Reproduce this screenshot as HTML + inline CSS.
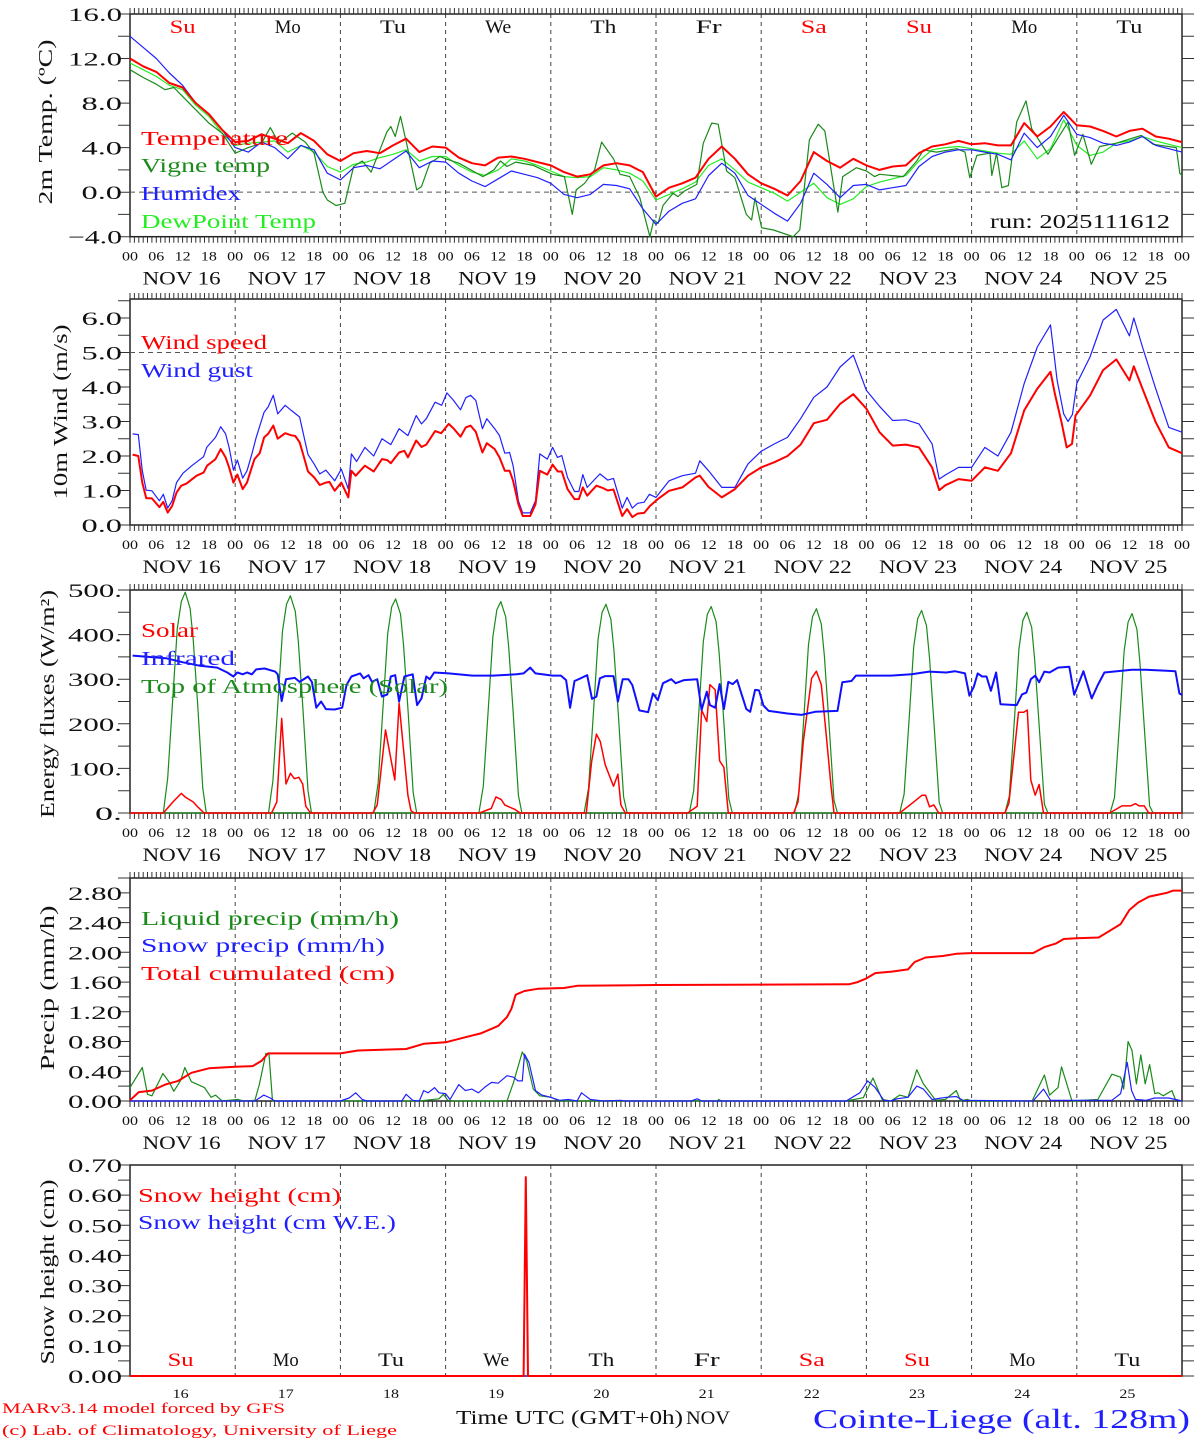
<!DOCTYPE html>
<html><head><meta charset="utf-8"><title>MAR forecast Cointe-Liege</title>
<style>html,body{margin:0;padding:0;background:#fff;}svg{display:block;}</style></head>
<body>
<svg id="chart" xmlns="http://www.w3.org/2000/svg" width="1194" height="1440" viewBox="0 0 1194 1440" font-family="'Liberation Serif', serif"></svg>
<script>
// ---------- DATA ----------
const dayNames = ["Su","Mo","Tu","We","Th","Fr","Sa","Su","Mo","Tu"];
const dayNameRed = [true,false,false,false,false,false,true,true,false,false];
const dayNumbers = ["16","17","18","19","20","21","22","23","24","25"];
const hourLabels = ["00","06","12","18"];
const tempTicks = [16,12,8,4,0,-4];
const tempTickLabels = ["16.0","12.0","8.0","4.0","0.0","\u22124.0"];
const windTicks = [0,1,2,3,4,5,6];
const windTickLabels = ["0.0","1.0","2.0","3.0","4.0","5.0","6.0"];
const energyTicks = [0,100,200,300,400,500];
const energyTickLabels = ["0.","100.","200.","300.","400.","500."];
const precipTicks = [0,0.4,0.8,1.2,1.6,2.0,2.4,2.8];
const precipTickLabels = ["0.00","0.40","0.80","1.20","1.60","2.00","2.40","2.80"];
const snowTicks = [0,0.1,0.2,0.3,0.4,0.5,0.6,0.7];
const snowTickLabels = ["0.00","0.10","0.20","0.30","0.40","0.50","0.60","0.70"];

const temperature = [12.0,11.3,10.8,9.8,9.4,8.0,7.0,5.6, 4.5,4.6,5.2,4.8,4.4,5.3,4.6,3.4, 2.8,3.5,3.7,3.5,4.2,4.8,3.6,4.1, 4.0,3.1,2.6,2.4,3.1,3.2,3.0,2.7, 2.4,1.8,1.4,1.6,2.4,2.6,2.4,1.8, -0.4,0.4,0.8,1.3,3.0,4.1,3.0,1.6, 0.8,0.3,-0.3,1.0,3.6,2.8,2.2,3.0, 2.4,2.0,2.3,2.4,3.5,4.1,4.3,4.6, 4.3,4.4,4.2,4.2,6.2,5.0,5.9,7.2, 6.0,5.9,5.5,5.0,5.5,5.7,5.0,4.8, 4.5];
const humidex = [14.0,13.0,12.0,10.7,9.6,8.0,7.0,5.6, 4.0,3.6,4.5,4.0,3.0,4.2,3.8,1.7, 1.1,2.2,2.4,2.1,2.9,3.7,2.2,2.8, 2.7,1.7,1.0,0.5,1.2,1.9,1.6,1.3, 0.8,-0.2,-0.5,-0.2,0.7,0.6,0.3,-1.5, -2.9,-1.7,-1.0,-0.6,1.5,2.6,1.7,-0.3, -1.1,-1.9,-2.6,-1.0,1.7,0.7,-0.5,0.6, 0.7,0.2,0.4,0.6,2.3,3.2,3.6,3.8, 3.8,3.6,3.4,2.9,5.3,4.0,5.0,6.9, 5.2,4.9,4.4,4.2,4.5,5.0,4.2,3.9, 3.6];
const dewPoint = [11.6,11.0,10.4,9.6,9.2,7.8,6.8,5.3, 4.2,4.4,4.5,4.6,3.6,4.2,3.6,2.3, 1.8,2.5,2.7,3.1,3.4,3.8,2.8,3.2, 3.2,2.4,1.8,1.5,2.0,3.0,2.8,2.4, 1.9,1.4,1.3,1.4,2.2,2.0,1.7,1.0, -0.7,-0.2,0.3,0.9,2.4,3.0,2.0,0.9, 0.4,-0.1,-0.8,0.0,0.8,-0.5,-1.1,-0.6, 0.5,0.9,1.2,1.5,2.8,3.8,4.0,4.1, 3.9,3.7,3.5,3.4,4.6,3.0,3.9,6.5, 4.2,3.3,3.6,4.4,4.6,5.0,4.6,4.3, 4.0];
const vigneHours = [0,3,6,8,10,12,15,18,21,24,27,30,32,34,37,40,42,44,45,47,48,49,51,53,55,56,58.6,59.5,60.5,61.7,63.5,65.4,66.5,68.4,70.7,72,75,80.5,83,84.5,86,88,92,96.4,99.1,100.9,101.8,103.7,106,107.6,110.3,111.8,114,116.3,118.6,119.5,120.5,121.6,123.9,125,126.5,129.3,130.8,132.7,134.2,136.1,138,140.6,141.8,142.6,144.1,146.8,151.3,152.8,155,157,158.5,161.5,162.6,165.7,168,169.9,171,176.4,179.5,181,184,188.6,190.5,191.6,193.2,196.2,196.6,197.7,198.9,200.4,202.3,204.4,205.7,208.3,209.4,214,215.5,217.4,219.3,221.2,225,230.7,233.4,238.7,239.5,240];
const vigneValues = [11.0,10.3,9.7,9.2,9.4,8.6,7.4,6.2,5.3,3.5,4.0,4.4,5.8,4.4,5.3,4.5,3.5,0.0,-0.7,-1.2,-1.1,-1.0,2.3,2.8,1.8,2.8,5.4,5.9,5.0,6.8,3.7,0.2,0.5,2.6,3.2,3.0,2.6,1.4,2.0,2.8,2.3,2.7,2.4,1.6,1.4,-2.0,0.2,0.8,2.0,4.5,3.0,1.6,1.4,-0.5,-4.0,-2.5,-2.8,-1.2,-0.1,-0.4,0.1,0.7,4.4,6.2,6.1,1.9,1.3,-2.0,-2.5,-0.5,-3.2,-3.4,-4.0,-3.4,4.7,6.1,5.5,-1.8,1.4,2.2,1.9,1.4,1.6,1.4,2.8,3.8,3.6,3.9,3.6,1.3,3.3,3.5,1.5,3.5,0.4,0.6,6.3,8.2,5.7,4.1,3.4,6.3,3.3,5.2,2.5,4.1,4.4,5.1,4.3,4.0,1.7,1.5];

const windHours = [0.6,1.9,2.8,3.7,5,6.7,7.6,8.6,9.6,10.6,11.7,12.9,15.2,16.8,17.6,19.5,20.7,21.8,22.6,23.6,24.5,25.7,26.7,27.6,28.4,29.6,30.6,31.5,32.7,33.7,35.4,36.8,37.7,38.7,39.7,40.6,42,43.3,44.7,45.5,46.7,48.2,49.8,50.5,51.5,53.6,55.6,57.5,58.7,59.5,61.4,62.6,63.4,65.3,66.5,67.6,69.6,71,72.7,73.8,75.4,76.6,77.7,78.9,80.4,81.4,83.2,84.3,85.5,86.6,87.4,88.6,89.6,91.3,92.5,93.5,95.2,96.4,97.6,98.5,99.8,101.4,102.4,103.3,104.3,106.4,107.9,109,110.3,112.3,113.4,114.6,115.8,117.3,118.6,120.4,123,126,129,130,132,135,138,141,144,147,150,153,156,159,162,165,168,171,174,177,180,183,184.6,186,189,192,195,198,201,204,207,210,211,212.5,213.7,214.9,215.7,219,222,225,228,229,231,234,237,240];
const windSpeed = [2.04,2.0,1.23,0.78,0.77,0.52,0.67,0.36,0.55,0.94,1.14,1.2,1.43,1.52,1.72,1.91,2.2,1.96,1.67,1.23,1.46,1.04,1.23,1.6,1.91,2.08,2.54,2.64,2.88,2.5,2.66,2.6,2.58,2.4,1.96,1.55,1.38,1.16,1.23,1.25,0.99,1.23,0.8,1.57,1.43,1.72,1.55,1.91,1.88,1.79,2.1,2.15,1.96,2.45,2.26,2.33,2.72,2.66,2.93,2.8,2.56,2.83,2.88,2.7,2.1,2.37,2.2,1.96,1.57,1.57,1.28,0.6,0.26,0.26,0.6,1.57,1.46,1.75,1.55,1.55,1.04,0.75,0.75,1.09,0.85,1.14,1.07,1.0,1.03,0.26,0.46,0.23,0.33,0.35,0.55,0.75,0.99,1.09,1.38,1.43,1.1,0.8,1.04,1.43,1.67,1.82,2.0,2.33,2.95,3.05,3.51,3.79,3.37,2.69,2.3,2.33,2.25,1.67,1.01,1.15,1.33,1.28,1.67,1.57,2.08,3.32,3.95,4.44,3.8,2.98,2.25,2.35,3.17,3.75,4.49,4.8,4.19,4.6,3.95,2.98,2.25,2.08];
const gustHours = [0.6,1.9,2.8,3.7,5,6.7,7.6,8.6,9.6,10.6,12.1,14.1,16.8,17.5,19.5,20.7,21.8,22.6,23.6,24.5,25.7,26.7,27.8,28.8,30.6,31.5,32.7,33.7,35.4,36.8,38.7,40.6,42,43.3,44.7,46.7,48.2,49.8,50.5,51.7,53.6,55.6,57.5,59.5,61.4,63.4,65.3,66.5,67.6,69.6,71.1,72.3,73.8,75.4,76.6,77.7,78.9,80.4,81.4,83.2,84.3,85.5,86.6,87.4,88.6,89.6,91.3,92.5,93.5,95.2,96.4,97.5,98.5,99.8,101.4,102.4,103.3,104.3,107.2,109,110.3,112.3,113.4,114.6,115.8,117.3,118.5,120,123,126,129,130,132,135,138,141,144,147,150,153,156,159,162,165,168,171,174,177,180,183,184.6,186,189,192,195,198,201,204,207,210,211.5,213,214,215,216,219,222,225,228,229,231,234,237,240];
const windGust = [2.64,2.62,1.57,1.01,0.99,0.7,0.89,0.49,0.7,1.23,1.5,1.72,1.98,2.25,2.54,2.85,2.64,2.25,1.59,1.88,1.36,1.57,2.06,2.54,3.27,3.42,3.76,3.22,3.47,3.32,3.13,2.04,1.77,1.48,1.59,1.28,1.62,1.04,2.06,1.84,2.25,2.0,2.5,2.33,2.79,2.59,3.17,2.93,3.08,3.56,3.47,3.83,3.61,3.34,3.69,3.76,3.61,2.79,3.08,2.79,2.59,2.08,2.1,1.72,0.7,0.35,0.35,0.7,2.06,1.91,2.25,1.96,2.01,1.38,0.97,0.97,1.46,1.09,1.48,1.3,1.35,0.49,0.8,0.49,0.63,0.66,0.89,0.8,1.28,1.43,1.5,1.86,1.57,1.09,1.09,1.77,2.14,2.35,2.54,3.08,3.7,4.0,4.58,4.92,3.9,3.44,3.03,3.05,2.93,2.35,1.33,1.45,1.67,1.67,2.25,2.0,2.69,4.1,5.16,5.8,4.2,3.22,3.0,3.2,4.1,4.87,5.94,6.25,5.48,6.0,5.16,3.95,2.83,2.69];

const toaDayHours = [7.6,8.6,9.8,10.8,11.7,12.6,13.7,14.4,15.4,16.6,17.4];
const toaValues = [
 [0,78,265,414,474,495,459,392,250,55,0],
 [0,72,258,408,468,487,452,385,242,50,0],
 [0,66,250,402,462,480,446,378,235,45,0],
 [0,60,244,396,456,474,440,372,228,40,0],
 [0,55,238,390,450,468,434,366,222,36,0],
 [0,50,232,384,445,463,429,360,216,32,0],
 [0,46,226,378,440,458,424,354,210,28,0],
 [0,42,220,372,436,454,420,348,204,24,0],
 [0,38,215,367,432,450,416,343,198,20,0],
 [0,35,210,362,428,447,412,338,192,16,0]];
const solarHours = [0,7.6,9.8,11.7,12.7,14.4,15.6,16.9, 32.3,33.5,34.6,35.6,36.6,37.5,38.5,39.4,40.1,41.2, 55.4,56.4,57.5,58.3,60.4,61.4,63.4,64.1,64.9, 79.7,82.4,83.5,84.7,85.5,87.8,89, 104.1,105.3,106.4,107.3,108.4,110.3,111.3,112,113, 127.2,129.4,130.4,131.6,132.3,133.5,134.5,135.5,136.5, 151.4,152.4,153.6,155.5,156.6,157.7,158.7,159.9,160.6, 175.6,178.7,180.7,181.5,182.4,183.4,184.5, 199.6,200.5,202.7,203.9,204.7,205.5,206.5,207.4,208.4, 223.5,226.3,228.3,229.4,230.2,231.4,232.4, 240];
const solarValues = [0,0,25,44,35,25,12,0, 0,25,212,65,89,77,80,65,15,0, 0,18,115,186,74,246,40,5,0, 0,10,36,30,18,8,0, 0,115,177,160,108,60,87,18,0, 0,15,231,205,288,276,117,102,0, 0,25,160,302,318,288,190,63,0, 0,24,40,40,14,18,0, 0,22,226,226,231,74,40,64,0, 0,16,16,21,16,16,0, 0];
const irHours = [0.6,8.2,12.1,16,19.9,22.2,23.6,24.5,25.7,26.7,27.8,28.8,30.7,33.1,33.7,34.6,35.6,37.6,38.7,40.6,41.5,42.5,43.6,44.7,46.7,48.4,49.4,50.5,52.5,53.3,54.4,55.2,56.4,57.5,58.7,59.5,60.5,61.4,62.6,64.5,65.5,66.5,67.6,68.4,69.4,72.7,78.1,82.8,88.2,89.8,91.3,92.5,96.4,98.3,99.5,100.4,101.4,103,104.3,105.4,106.4,107.2,108.4,110.3,111.3,112.4,113.7,114.6,116.2,118.2,119.3,120.4,121.6,123.5,124.5,126.4,129.4,130.4,131.6,132.3,133.5,134.5,135.5,136.5,137.5,138.5,140.6,141.5,142.6,143.5,144.5,145.7,150,153.2,156.3,161.4,162.5,164.6,165.6,173.6,178.3,182.3,186.2,188.2,190.5,191.5,192.5,193.4,194.4,195.4,196.4,197.6,198.6,202.3,203.5,204.5,205.5,206.5,207.4,208.6,209.8,211.7,214.3,215.4,217.5,219.4,220.8,222.3,228.6,231.7,236.5,238.5,239.4,240];
const irValues = [353,347,338,330,326,315,306,315,311,315,311,322,324,317,311,251,300,303,294,306,294,236,250,233,232,236,287,306,313,302,309,294,300,261,266,306,309,250,306,311,242,257,306,300,315,313,308,308,311,313,326,313,308,308,298,236,296,303,309,256,261,302,307,307,250,300,300,287,230,226,268,253,291,300,291,298,300,231,272,242,236,289,233,294,289,298,233,227,276,275,241,229,223,220,227,229,293,296,308,308,311,317,315,318,313,263,283,313,306,306,274,315,244,242,266,270,300,308,293,317,315,326,328,265,318,257,287,315,321,321,319,318,268,265];

const liquidHours = [0,2.8,4,5,7.5,9,10,11.6,12.5,14,17,18.5,19.5,21,24.5,26,28.5,29.5,31,31.7,32.5,66,70.5,71.5,72.5,74,86,87.5,89.5,90.5,92,93.5,96,98,134,134.3,135,163.4,167.3,169.5,171.6,173.6,175.6,177.5,179.5,181,183.8,186,188.5,189.5,191,192,205.8,208.6,209.8,211.7,212.5,214.9,220.8,224,226,226.7,227.7,228.6,229.6,230.6,231.6,232.6,233.8,234.6,235.7,237.7,238.5,240];
const liquidValues = [0.18,0.45,0.09,0.07,0.37,0.25,0.13,0.28,0.45,0.26,0.18,0.05,0.08,0,0.02,0,0.01,0.22,0.64,0.63,0,0,0.03,0.09,0.01,0,0,0.25,0.66,0.54,0.16,0.07,0.05,0,0,0.02,0,0,0.045,0.31,0.02,0,0.08,0.05,0.42,0.23,0.01,0.02,0.14,0,0.02,0,0,0.35,0.08,0.18,0.46,0,0.02,0.36,0.32,0.16,0.8,0.68,0.23,0.62,0.23,0.49,0.1,0.11,0.07,0.14,0.02,0];
const snowPrecipHours = [0,28.5,30.5,32,33,48,50,51.5,53,54,62,63,64.5,66,67,68,69.5,70.5,72,73,75,76.5,78,79.5,81,82.5,84,86,87.5,88.5,89.5,90,91,92.5,94,96,98,100,102,103,105,108,112,113,128,129.4,130.5,163.4,166.5,168.3,170,172,173.6,175,177.5,179.5,181,183,186.2,188.5,190,206,208.4,210,224,226,227.5,228.5,229.4,231.8,233.8,237,240];
const snowPrecipValues = [0,0,0.08,0.04,0,0,0.04,0.11,0.02,0,0,0.09,0.01,0,0.14,0.11,0.18,0.11,0.1,0.02,0.22,0.14,0.16,0.11,0.19,0.25,0.24,0.34,0.32,0.27,0.27,0.63,0.52,0.14,0.08,0.05,0.01,0.02,0,0.11,0.02,0,0.01,0,0,0.03,0,0,0.11,0.27,0.18,0.01,0,0.03,0.05,0.2,0.16,0.02,0.05,0.06,0.01,0,0.16,0.01,0.01,0.1,0.52,0.14,0.02,0.01,0.04,0.04,0];
const cumHours = [0,2,5,8,11,14,18,24,28,30,31.5,48,52,63,67,72,76,80,84,86,87,88,90,93,99,102,120,164,166,168,170,173.6,177.5,179,181.5,185.4,188.5,191.7,206,208.6,211.3,213,216,221,223.5,226,228,230,232.5,236.5,238,240];
const cumValues = [0.01,0.12,0.14,0.22,0.27,0.38,0.44,0.46,0.47,0.54,0.64,0.64,0.68,0.70,0.77,0.79,0.85,0.91,1.01,1.13,1.24,1.43,1.48,1.51,1.52,1.55,1.56,1.57,1.60,1.65,1.72,1.74,1.77,1.87,1.93,1.95,1.98,1.99,1.99,2.07,2.12,2.18,2.19,2.20,2.29,2.38,2.57,2.67,2.75,2.80,2.83,2.83];
const snowHeightHours = [0,89.8,90.3,90.8,240];
const snowHeightValues = [0,0,0.66,0,0];
const snowWEHours = [0,240];
const snowWEValues = [0,0];

// ---------- DRAWING ----------
const svg = document.getElementById('chart');
const NS = 'http://www.w3.org/2000/svg';
const X0 = 130, X1 = 1182;
function xOf(h){ return X0 + h * (X1 - X0) / 240; }
function yScale(top, bottom, min, max){ return v => bottom - (v - min) * (bottom - top) / (max - min); }
function mk(tag, attrs, parent){
  const e = document.createElementNS(NS, tag);
  for (const k in attrs) e.setAttribute(k, attrs[k]);
  (parent || svg).appendChild(e);
  return e;
}
function txt(x, y, s, size, fill, anchor, len, name, rot){
  const t = mk('text', {x:x, y:y, 'font-size':size, fill:fill, 'text-anchor':anchor});
  if (len) { t.setAttribute('textLength', len); t.setAttribute('lengthAdjust', 'spacingAndGlyphs'); }
  if (rot) t.setAttribute('transform', 'rotate(-90 ' + x + ' ' + y + ')');
  t.textContent = s;
  
  
  return t;
}
function series(hours, vals, yf, color, width, name){
  let d = '';
  for (let i = 0; i < hours.length; i++) d += (i ? 'L' : 'M') + xOf(hours[i]).toFixed(1) + ' ' + yf(vals[i]).toFixed(1);
  const p = mk('path', {d:d, fill:'none', stroke:color, 'stroke-width':width, 'stroke-linejoin':'round'});
  
  
  return p;
}
const h3 = temperature.map((_, i) => i * 3);

const panels = [
  {top:14, bottom:236.7, min:-4, max:16, minor:2, ticks:tempTicks, labels:tempTickLabels, name:'temperature'},
  {top:299, bottom:525, min:0, max:6.55, minor:0.5, ticks:windTicks, labels:windTickLabels, name:'wind'},
  {top:590, bottom:813, min:0, max:500, minor:50, ticks:energyTicks, labels:energyTickLabels, name:'energy'},
  {top:878, bottom:1101, min:0, max:3.0, minor:0.2, ticks:precipTicks, labels:precipTickLabels, name:'precip'},
  {top:1165, bottom:1376, min:0, max:0.7, minor:0.05, ticks:snowTicks, labels:snowTickLabels, name:'snow'}
];

panels.forEach((P, pi) => {
  P.y = yScale(P.top, P.bottom, P.min, P.max);
  const g = mk('g', {});
  
  
  for (let d = 1; d < 10; d++) {
    const l = mk('line', {x1:xOf(d*24), x2:xOf(d*24), y1:P.top, y2:P.bottom, stroke:'#444', 'stroke-width':1, 'stroke-dasharray':'4 4'}, g);
    
    
  }
  const f = mk('rect', {x:X0, y:P.top, width:X1-X0, height:P.bottom-P.top, fill:'none', stroke:'#222', 'stroke-width':1.5}, g);
  
  
  let d = '';
  const nMinor = Math.round((P.max - P.min) / P.minor);
  for (let i = 0; i <= nMinor; i++) {
    const yy = P.y(P.min + i * P.minor);
    if (yy < P.top - 0.5) continue;
    d += 'M' + (X0-12) + ' ' + yy.toFixed(1) + 'H' + X0 + 'M' + X1 + ' ' + yy.toFixed(1) + 'H' + (X1+12);
  }
  if (pi < 4) {
    for (let h = 0; h <= 240; h++) {
      const xx = xOf(h).toFixed(1);
      d += 'M' + xx + ' ' + (P.top-6) + 'V' + P.top + 'M' + xx + ' ' + P.bottom + 'V' + (P.bottom+6);
    }
  }
  const tk = mk('path', {d:d, stroke:'#333', 'stroke-width':1, fill:'none'}, g);
  
  
  P.ticks.forEach((v, i) => {
    txt(122, P.y(v) + 7, P.labels[i], 19, '#111', 'end', P.labels[i].length * 13.5, P.name + '-y-tick-label');
  });
  if (pi < 4) {
    for (let h = 0; h <= 240; h += 6) {
      txt(xOf(h), P.bottom + 24, hourLabels[(h/6)%4], 13, '#111', 'middle', 16, 'hour-tick-label');
    }
    for (let dd = 0; dd < 10; dd++) {
      txt(xOf(dd*24+12) - 1, P.bottom + 48, 'NOV ' + dayNumbers[dd], 19, '#111', 'middle', 78, 'date-label');
    }
  }
});

const [P1, P2, P3, P4, P5] = panels;
let rl = mk('line', {x1:X0, x2:X1, y1:P1.y(0), y2:P1.y(0), stroke:'#555', 'stroke-dasharray':'5 4', 'stroke-width':1});


rl = mk('line', {x1:X0, x2:X1, y1:P2.y(5), y2:P2.y(5), stroke:'#555', 'stroke-dasharray':'5 4', 'stroke-width':1});



for (let d = 0; d < 10; d++) {
  txt(xOf(d*24+12), 33, dayNames[d], 19, dayNameRed[d] ? '#ff0000' : '#111', 'middle', dayNames[d].length*13, 'weekday-label');
  txt(xOf(d*24+12) - 2, 1366, dayNames[d], 19, dayNameRed[d] ? '#ff0000' : '#111', 'middle', dayNames[d].length*13, 'weekday-label-bottom');
  txt(xOf(d*24+12) - 2, 1398, dayNumbers[d], 13, '#111', 'middle', 16, 'day-number-label');
}

series(h3, dewPoint, P1.y, '#22ee22', 1.2, 'dewpoint-line');
series(vigneHours, vigneValues, P1.y, '#1a8a1a', 1.2, 'vigne-temp-line');
series(h3, humidex, P1.y, '#2020ff', 1.2, 'humidex-line');
series(h3, temperature, P1.y, '#ff0000', 2, 'temperature-line');
txt(141, 145, 'Temperature', 20, '#ff0000', 'start', 147, 'legend-temperature');
txt(141, 172, 'Vigne temp', 20, '#1a8a1a', 'start', 129, 'legend-vigne-temp');
txt(141, 200, 'Humidex', 20, '#2020ff', 'start', 100, 'legend-humidex');
txt(141, 228, 'DewPoint Temp', 20, '#22ee22', 'start', 175, 'legend-dewpoint');
txt(1170, 228, 'run: 2025111612', 20, '#111', 'end', 180, 'run-label');

series(gustHours, windGust, P2.y, '#2020ff', 1.2, 'wind-gust-line');
series(windHours, windSpeed, P2.y, '#ff0000', 2, 'wind-speed-line');
txt(141, 349, 'Wind speed', 20, '#ff0000', 'start', 126, 'legend-wind-speed');
txt(141, 377, 'Wind gust', 20, '#2020ff', 'start', 112, 'legend-wind-gust');

for (let d = 0; d < 10; d++) {
  const hrs = toaDayHours.map(h => h + d*24);
  series(hrs, toaValues[d], P3.y, '#1a8a1a', 1.2, 'toa-solar-line');
}
series([0,240], [0,0], P3.y, '#1a8a1a', 1.2, 'toa-solar-baseline');
series(solarHours, solarValues, P3.y, '#ff0000', 1.5, 'solar-line');
series(irHours, irValues, P3.y, '#1010ff', 2, 'infrared-line');
txt(141, 637, 'Solar', 20, '#ff0000', 'start', 57, 'legend-solar');
txt(141, 665, 'Infrared', 20, '#2020ff', 'start', 94, 'legend-infrared');
txt(141, 693, 'Top of Atmosphere (Solar)', 20, '#1a8a1a', 'start', 307, 'legend-toa');

series(liquidHours, liquidValues, P4.y, '#1a8a1a', 1.2, 'liquid-precip-line');
series(snowPrecipHours, snowPrecipValues, P4.y, '#2020ff', 1.2, 'snow-precip-line');
series(cumHours, cumValues, P4.y, '#ff0000', 2, 'total-cumulated-line');
txt(141, 925, 'Liquid precip (mm/h)', 20, '#1a8a1a', 'start', 258, 'legend-liquid-precip');
txt(141, 952, 'Snow precip (mm/h)', 20, '#2020ff', 'start', 244, 'legend-snow-precip');
txt(141, 980, 'Total cumulated (cm)', 20, '#ff0000', 'start', 254, 'legend-total-cumulated');

series(snowWEHours, snowWEValues, P5.y, '#2020ff', 1.2, 'snow-we-line');
series(snowHeightHours, snowHeightValues, P5.y, '#ff0000', 2, 'snow-height-line');
txt(138, 1202, 'Snow height (cm)', 20, '#ff0000', 'start', 203, 'legend-snow-height');
txt(138, 1229, 'Snow height (cm W.E.)', 20, '#2020ff', 'start', 258, 'legend-snow-we');

txt(52, 122, '2m Temp. (\u00baC)', 20, '#111', 'middle', 165, 'y-axis-title-temperature', true);
txt(67, 412, '10m Wind (m/s)', 20, '#111', 'middle', 175, 'y-axis-title-wind', true);
txt(54, 704, 'Energy fluxes (W/m\u00b2)', 20, '#111', 'middle', 228, 'y-axis-title-energy', true);
txt(54, 988, 'Precip (mm/h)', 20, '#111', 'middle', 165, 'y-axis-title-precip', true);
txt(54, 1272, 'Snow height (cm)', 20, '#111', 'middle', 185, 'y-axis-title-snow', true);

txt(456, 1424, 'Time UTC (GMT+0h)', 20, '#111', 'start', 227, 'x-axis-title');
txt(686, 1424, 'NOV', 19, '#111', 'start', 44, 'x-axis-month');
txt(2, 1413, 'MARv3.14 model forced by GFS', 15, '#ff0000', 'start', 283, 'credit-model');
txt(2, 1435, '(c) Lab. of Climatology, University of Liege', 15, '#ff0000', 'start', 395, 'credit-lab');
txt(1190, 1428, 'Cointe-Liege (alt. 128m)', 27, '#2020ff', 'end', 377, 'station-title');
</script>
</body></html>
